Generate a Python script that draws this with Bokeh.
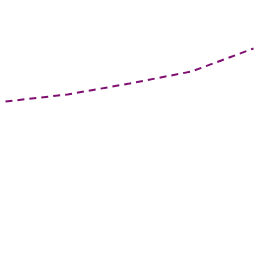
from bokeh.plotting import figure
from bokeh.models import Range1d
from bokeh.embed import file_html
from bokeh.resources import INLINE

x_vals = [0, 1, 2, 3, 4]
y_vals = [155, 162, 173, 185, 208]

p = figure(width=256, height=256, output_backend="svg", toolbar_location=None,
           x_range=Range1d(-5/62, 4 + 3/62), y_range=Range1d(0, 256),
           min_border=0, min_border_left=0, min_border_right=0,
           min_border_top=0, min_border_bottom=0)
p.axis.visible = False
p.grid.visible = False
p.outline_line_color = None
p.background_fill_color = "white"
p.border_fill_color = "white"

p.line(x_vals, y_vals, line_color="#7f0f70", line_width=2, line_dash="7 5")

open("out.html", "w").write(file_html(p, INLINE))
